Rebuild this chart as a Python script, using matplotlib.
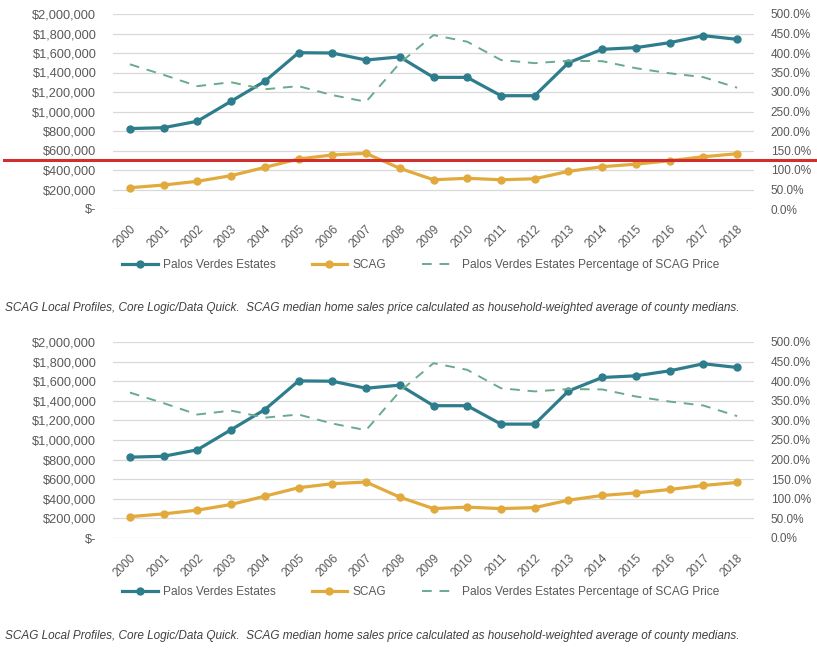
import matplotlib

matplotlib.use('Agg')
import matplotlib.pyplot as plt
from matplotlib.lines import Line2D
from matplotlib.ticker import FuncFormatter

years = [str(y) for y in range(2000, 2019)]
pve_price = [825000, 834000, 900000, 1105000, 1310000, 1603000, 1600000, 1528000, 1560000,
             1350000, 1350000, 1162000, 1162000, 1500000, 1638000, 1655000, 1706000, 1778000, 1740000]
scag_price = [218000, 246000, 284000, 342000, 427000, 513000, 554000, 571000, 417000,
              300000, 315000, 300000, 310000, 386000, 434000, 460000, 495000, 536000, 567000]
pve_pct = [371, 344, 315, 325, 307, 315, 292, 275, 374,
           446, 429, 382, 374, 380, 379, 361, 348, 338, 311]

teal = '#2e7d8c'
gold = '#e2aa3c'
green = '#6aaa8c'
grey = '#595959'
caption = ("SCAG Local Profiles, Core Logic/Data Quick.  SCAG median home sales price "
           "calculated as household-weighted average of county medians.")

plt.rcParams['font.family'] = ['Liberation Sans', 'DejaVu Sans']

W, H = 817, 648
fig = plt.figure(figsize=(W / 100, H / 100), dpi=100)


def money(v, pos):
    return '$-' if v == 0 else '${:,.0f}'.format(v)


def pct(v, pos):
    return '{:.1f}%'.format(v)


def draw_chart(top_px, bottom_px, legend_px, caption_px):
    left, right = 113, 754
    ax = fig.add_axes([left / W, 1 - bottom_px / H, (right - left) / W, (bottom_px - top_px) / H])
    x = range(len(years))
    ax.plot(x, pve_price, color=teal, lw=2.3, marker='o', ms=5, zorder=4)
    ax.plot(x, scag_price, color=gold, lw=2.3, marker='o', ms=5, zorder=4)
    ax.set_ylim(0, 2000000)
    ax.set_yticks(range(0, 2000001, 200000))
    ax.yaxis.set_major_formatter(FuncFormatter(money))
    ax.set_xlim(-0.5, len(years) - 0.5)
    ax.set_xticks(list(x))
    ax.set_xticklabels(years, rotation=45, ha='right', rotation_mode='anchor')
    ax.grid(axis='y', color='#d9d9d9', lw=0.9)
    ax.set_axisbelow(True)

    ax2 = ax.twinx()
    ax2.plot(x, pve_pct, color=green, lw=1.4, ls=(0, (5, 4)), zorder=3)
    ax2.set_ylim(0, 500)
    ax2.set_yticks(range(0, 501, 50))
    ax2.yaxis.set_major_formatter(FuncFormatter(pct))

    for a in (ax, ax2):
        for s in a.spines.values():
            s.set_visible(False)
        a.tick_params(length=0, colors=grey)
    ax.tick_params(axis='y', pad=12, labelsize=9.2)
    ax.tick_params(axis='x', pad=10, labelsize=8.5)
    ax2.tick_params(axis='y', pad=12, labelsize=8.5)

    handles = [Line2D([], [], color=teal, lw=2.3, marker='o', ms=5),
               Line2D([], [], color=gold, lw=2.3, marker='o', ms=5),
               Line2D([], [], color=green, lw=1.4, ls=(0, (5, 4)))]
    labels = ['Palos Verdes Estates', 'SCAG', 'Palos Verdes Estates Percentage of SCAG Price']
    fig.legend(handles, labels, loc='center', bbox_to_anchor=(421 / W, 1 - legend_px / H),
               ncol=3, frameon=False, fontsize=8.6,
               handlelength=3.0, handletextpad=0.4, columnspacing=3.0, labelcolor=grey)
    fig.text(5 / W, 1 - caption_px / H, caption, fontsize=8.5, style='italic',
             color='#404040', va='center')
    return ax


draw_chart(14, 209, 265, 308)
draw_chart(342, 538, 592, 636)

# red marker line across the top chart
fig.add_artist(Line2D([4 / W, 1.0], [1 - 160 / H, 1 - 160 / H], color='#d12f2f', lw=2.2,
                      transform=fig.transFigure, zorder=10))

fig.savefig('out.png', dpi=100)
